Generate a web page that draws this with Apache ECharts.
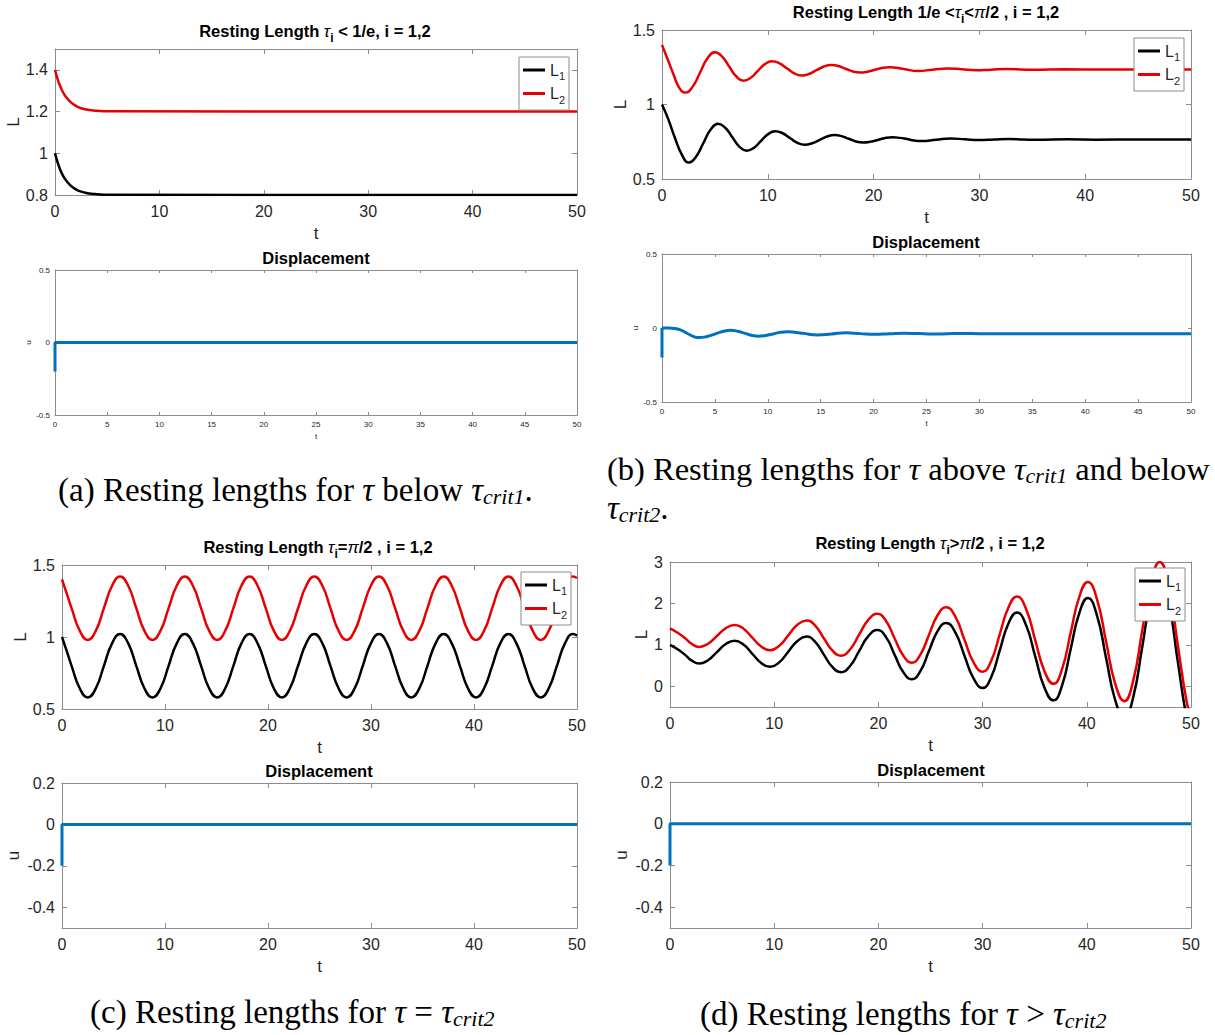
<!DOCTYPE html>
<html>
<head>
<meta charset="utf-8">
<script src="https://cdn.jsdelivr.net/npm/echarts@6/dist/echarts.min.js"></script>
<style>
  html, body { margin: 0; padding: 0; background: #fff; }
  #chart { width: 1215px; height: 1035px; }
</style>
</head>
<body>
<div id="chart"></div>
<script>
// ---------------- tick values ----------------
const tMajor = [0, 10, 20, 30, 40, 50];
const tMinor = [0, 5, 10, 15, 20, 25, 30, 35, 40, 45, 50];
const ticksLa = [0.8, 1, 1.2, 1.4];
const ticksL = [0.5, 1, 1.5];
const ticksLd = [0, 1, 2, 3];
const ticksU = [-0.5, 0, 0.5];
const ticksU2 = [-0.4, -0.2, 0, 0.2];

// ---------------- (a) tau below 1/e ----------------
const tA = [0, 0.25, 0.5, 0.75, 1, 1.5, 2, 2.5, 3, 3.5, 4, 5, 50];
const aL1 = [1.0, 0.956, 0.921, 0.894, 0.874, 0.845, 0.827, 0.816, 0.81, 0.806, 0.804, 0.801, 0.8];
const aL2 = [1.4, 1.356, 1.321, 1.294, 1.274, 1.245, 1.227, 1.216, 1.21, 1.206, 1.204, 1.201, 1.2];
const tAu = [0, 0, 50];
const aU = [-0.2, 0, 0];

// ---------------- (b) 1/e < tau < pi/2 ----------------
const tB1 = [0, 0.6, 1.25, 1.9, 2.5, 3.2, 3.9, 4.6, 5.3, 5.98, 6.65, 7.33, 8.0, 8.68, 9.35, 10.03, 10.7,
  11.4, 12.1, 12.8, 13.5, 14.2, 14.9, 15.6, 16.3, 16.98, 17.65, 18.33, 19.0, 19.7, 20.4, 21.1, 21.8,
  22.48, 23.15, 23.83, 24.5, 25.9, 27.3, 28.65, 30.0, 31.4, 32.8, 34.15, 35.5, 38.3, 41, 45, 50];
const bL1 = [1.0, 0.9, 0.77, 0.66, 0.61, 0.648, 0.74, 0.832, 0.87, 0.844, 0.78, 0.716, 0.69, 0.709, 0.755, 0.801, 0.82,
  0.807, 0.775, 0.743, 0.73, 0.74, 0.762, 0.785, 0.795, 0.788, 0.77, 0.752, 0.745, 0.75, 0.762, 0.775, 0.78,
  0.776, 0.768, 0.759, 0.755, 0.763, 0.772, 0.766, 0.761, 0.765, 0.768, 0.765, 0.763, 0.766, 0.764, 0.765, 0.765];
const tB2 = [0, 0.55, 1.1, 1.65, 2.2, 2.9, 3.6, 4.3, 5.0, 5.68, 6.35, 7.03, 7.7, 8.38, 9.05, 9.73, 10.4,
  11.1, 11.8, 12.5, 13.2, 13.9, 14.6, 15.3, 16.0, 16.68, 17.35, 18.03, 18.7, 19.4, 20.1, 20.8, 21.5,
  22.85, 24.2, 25.6, 27.0, 28.35, 29.7, 31.1, 32.5, 35.2, 38, 42, 50];
const bL2 = [1.4, 1.3, 1.2, 1.11, 1.08, 1.12, 1.215, 1.31, 1.35, 1.322, 1.255, 1.188, 1.16, 1.179, 1.225, 1.271, 1.29,
  1.276, 1.243, 1.209, 1.195, 1.205, 1.23, 1.255, 1.265, 1.258, 1.24, 1.222, 1.215, 1.22, 1.233, 1.245, 1.25,
  1.238, 1.225, 1.234, 1.242, 1.236, 1.23, 1.234, 1.238, 1.233, 1.236, 1.235, 1.235];
const tBu0 = [0, 0];
const bU0 = [-0.2, 0];
const tBu = [0, 0.6, 1.2, 1.8, 2.4, 3.0, 3.5, 4.25, 5.0, 5.75, 6.5, 7.15, 7.8, 8.45, 9.1, 9.8, 10.5, 11.2, 11.9,
  13.3, 14.7, 16.05, 17.4, 18.75, 20.1, 21.5, 22.9, 24.25, 25.6, 27, 28.4, 30, 50];
const bU = [0, 0, -0.003, -0.015, -0.037, -0.058, -0.065, -0.058, -0.041, -0.024, -0.016, -0.022, -0.035, -0.049, -0.055,
  -0.05, -0.04, -0.029, -0.025, -0.036, -0.047, -0.04, -0.032, -0.038, -0.043, -0.039, -0.035, -0.038, -0.041,
  -0.039, -0.037, -0.039, -0.039];

// ---------------- (c) tau = pi/2 ----------------
const tC = [0, 0.47, 0.93, 1.72, 2.5,
  3.29, 4.07, 4.86, 5.64, 6.43, 7.21, 8.0, 8.78,
  9.57, 10.35, 11.14, 11.92, 12.71, 13.5, 14.28, 15.07,
  15.85, 16.64, 17.42, 18.21, 18.99, 19.78, 20.56, 21.35,
  22.13, 22.92, 23.71, 24.49, 25.28, 26.06, 26.85, 27.63,
  28.42, 29.2, 29.99, 30.77, 31.56, 32.34, 33.13, 33.91,
  34.7, 35.48, 36.27, 37.06, 37.84, 38.63, 39.41, 40.2,
  40.98, 41.77, 42.55, 43.34, 44.12, 44.91, 45.69, 46.48,
  47.26, 48.05, 48.83, 49.62, 50];
const cL1 = [1.0, 0.9, 0.8, 0.644, 0.58,
  0.644, 0.8, 0.956, 1.02, 0.956, 0.8, 0.644, 0.58,
  0.644, 0.8, 0.956, 1.02, 0.956, 0.8, 0.644, 0.58,
  0.644, 0.8, 0.956, 1.02, 0.956, 0.8, 0.644, 0.58,
  0.644, 0.8, 0.956, 1.02, 0.956, 0.8, 0.644, 0.58,
  0.644, 0.8, 0.956, 1.02, 0.956, 0.8, 0.644, 0.58,
  0.644, 0.8, 0.956, 1.02, 0.956, 0.8, 0.644, 0.58,
  0.644, 0.8, 0.956, 1.02, 0.956, 0.8, 0.644, 0.58,
  0.644, 0.8, 0.956, 1.02, 1.01];
const cL2 = [1.4, 1.3, 1.2, 1.044, 0.98,
  1.044, 1.2, 1.356, 1.42, 1.356, 1.2, 1.044, 0.98,
  1.044, 1.2, 1.356, 1.42, 1.356, 1.2, 1.044, 0.98,
  1.044, 1.2, 1.356, 1.42, 1.356, 1.2, 1.044, 0.98,
  1.044, 1.2, 1.356, 1.42, 1.356, 1.2, 1.044, 0.98,
  1.044, 1.2, 1.356, 1.42, 1.356, 1.2, 1.044, 0.98,
  1.044, 1.2, 1.356, 1.42, 1.356, 1.2, 1.044, 0.98,
  1.044, 1.2, 1.356, 1.42, 1.356, 1.2, 1.044, 0.98,
  1.044, 1.2, 1.356, 1.42, 1.41];
const tCu = [0, 0, 50];
const cU = [-0.2, 0, 0];

// ---------------- (d) tau > pi/2 ----------------
const tD = [0, 0.7, 1.4, 2.1, 2.8,
  3.65, 4.5, 5.35, 6.2, 7.05, 7.9, 8.75, 9.6,
  10.48, 11.35, 12.23, 13.1, 13.93, 14.75, 15.58, 16.4,
  17.28, 18.15, 19.03, 19.9, 20.73, 21.55, 22.38, 23.2,
  24.03, 24.85, 25.68, 26.5, 27.38, 28.25, 29.13, 30.0,
  30.83, 31.65, 32.48, 33.3, 34.18, 35.05, 35.93, 36.8,
  37.63, 38.45, 39.28, 40.1, 40.98, 41.85, 42.73, 43.6,
  44.45, 45.3, 46.15, 47.0, 47.85, 48.7, 49.55, 50];
const dL1 = [1.0, 0.9, 0.77, 0.62, 0.55,
  0.63, 0.825, 1.02, 1.1, 1.008, 0.785, 0.562, 0.47,
  0.577, 0.835, 1.093, 1.2, 1.074, 0.77, 0.466, 0.34,
  0.489, 0.85, 1.211, 1.36, 1.186, 0.765, 0.344, 0.17,
  0.369, 0.85, 1.331, 1.53, 1.3, 0.745, 0.19, -0.04,
  0.226, 0.87, 1.514, 1.78, 1.47, 0.72, -0.03, -0.34,
  0.022, 0.895, 1.768, 2.13, 1.707, 0.685, -0.337, -0.76,
  -0.268, 0.92, 2.108, 2.6, 2.029, 0.65, -0.729, -1.16];
const dL2 = [1.4, 1.3, 1.17, 1.02, 0.95,
  1.028, 1.215, 1.402, 1.48, 1.391, 1.175, 0.959, 0.87,
  0.975, 1.23, 1.485, 1.59, 1.466, 1.165, 0.864, 0.74,
  0.888, 1.245, 1.602, 1.75, 1.577, 1.16, 0.743, 0.57,
  0.766, 1.24, 1.714, 1.91, 1.682, 1.13, 0.578, 0.35,
  0.616, 1.26, 1.904, 2.17, 1.861, 1.115, 0.369, 0.06,
  0.42, 1.29, 2.16, 2.52, 2.098, 1.08, 0.058, -0.36,
  0.132, 1.32, 2.508, 3.0, 2.429, 1.05, -0.329, -0.76];
const tDu = [0, 0, 50];
const dU = [-0.2, 0, 0];

// ---------------- styling ----------------
const SANS = "'Liberation Sans', Arial, Helvetica, sans-serif";
const SERIF = "'Liberation Serif', 'Times New Roman', serif";
const AX = '#8c8c8c';
const TX = '#262626';
const BLACK = '#000000';
const RED = '#e60000';
const BLUE = '#0072bd';

const zip = (t, v) => t.map((x, i) => [x, v[i]]);

const option = {
  animation: false,
  backgroundColor: '#ffffff',
  grid: [], xAxis: [], yAxis: [], series: [], legend: [],
  graphic: { elements: [] }
};

function addPanel(p) {
  const gi = option.grid.length;
  option.grid.push(Object.assign({ containLabel: false }, p.grid));
  const fs = p.small ? 8 : 16;
  const tl = p.small ? 3 : 5;
  const frame = (ticks) => ({
    axisLine: { show: true, onZero: false, lineStyle: { color: AX, width: 1 } },
    splitLine: { show: false },
    axisTick: { show: true, inside: true, length: tl, customValues: ticks, lineStyle: { color: AX, width: 1 } }
  });
  const xi = option.xAxis.length;
  const yi = option.yAxis.length;
  option.xAxis.push(Object.assign({
    type: 'value', gridIndex: gi, position: 'bottom', min: 0, max: 50,
    axisLabel: { customValues: p.xTicks, fontSize: fs, color: TX, fontFamily: SANS, margin: p.small ? 5 : 8 },
    name: 't', nameLocation: 'middle', nameGap: p.small ? 17 : 30,
    nameTextStyle: { fontSize: p.small ? 8 : 17, color: TX, fontFamily: SANS }
  }, frame(p.xTicks)));
  option.xAxis.push(Object.assign({
    type: 'value', gridIndex: gi, position: 'top', min: 0, max: 50, axisLabel: { show: false }
  }, frame(p.xTicks)));
  option.yAxis.push(Object.assign({
    type: 'value', gridIndex: gi, position: 'left', min: p.yMin, max: p.yMax,
    axisLabel: { customValues: p.yTicks, fontSize: fs, color: TX, fontFamily: SANS, margin: p.small ? 5 : 7 },
    name: p.yName, nameLocation: 'middle', nameGap: p.yGap,
    nameTextStyle: { fontSize: p.small ? 8 : 17, color: TX, fontFamily: SANS }
  }, frame(p.yTicks)));
  option.yAxis.push(Object.assign({
    type: 'value', gridIndex: gi, position: 'right', min: p.yMin, max: p.yMax, axisLabel: { show: false }
  }, frame(p.yTicks)));
  p.series.forEach(s => option.series.push({
    type: 'line', name: s.name, xAxisIndex: xi, yAxisIndex: yi, data: s.data,
    symbol: 'none', smooth: s.smooth || false, clip: true, silent: true,
    lineStyle: { color: s.color, width: s.width }, itemStyle: { color: s.color }
  }));
  if (p.legend) {
    option.legend.push({
      left: p.legend.left, top: p.legend.top, orient: 'vertical', data: ['L1', 'L2'],
      selectedMode: false, icon: 'rect', itemWidth: 22, itemHeight: 3, itemGap: 4,
      padding: [5, 4, 5, 4], backgroundColor: '#ffffff', borderColor: AX, borderWidth: 1, borderRadius: 0,
      formatter: n => 'L{s|' + n.slice(1) + '}',
      textStyle: {
        fontFamily: SANS, fontSize: 16, color: TX,
        rich: { s: { fontFamily: SANS, fontSize: 11, color: TX, verticalAlign: 'bottom', padding: [12, 0, 0, 0] } }
      }
    });
  }
}

const lw = 2.5, uw = 3;

// (a)
addPanel({ grid: { left: 55, top: 49, width: 522, height: 146 }, yMin: 0.8, yMax: 1.5,
  xTicks: tMajor, yTicks: ticksLa, yName: 'L', yGap: 33, legend: { left: 519, top: 57 },
  series: [{ name: 'L1', data: zip(tA, aL1), color: BLACK, width: lw, smooth: 0.4 },
           { name: 'L2', data: zip(tA, aL2), color: RED, width: lw, smooth: 0.4 }] });
addPanel({ grid: { left: 55, top: 270, width: 522, height: 145 }, yMin: -0.5, yMax: 0.5, small: true,
  xTicks: tMinor, yTicks: ticksU, yName: 'u', yGap: 21,
  series: [{ name: 'u', data: zip(tAu, aU), color: BLUE, width: uw }] });

// (b)
addPanel({ grid: { left: 662, top: 30, width: 529, height: 149 }, yMin: 0.5, yMax: 1.5,
  xTicks: tMajor, yTicks: ticksL, yName: 'L', yGap: 33, legend: { left: 1134, top: 38 },
  series: [{ name: 'L1', data: zip(tB1, bL1), color: BLACK, width: lw, smooth: 0.5 },
           { name: 'L2', data: zip(tB2, bL2), color: RED, width: lw, smooth: 0.5 }] });
addPanel({ grid: { left: 662, top: 254, width: 529, height: 148 }, yMin: -0.5, yMax: 0.5, small: true,
  xTicks: tMinor, yTicks: ticksU, yName: 'u', yGap: 21,
  series: [{ name: 'u', data: zip(tBu0, bU0), color: BLUE, width: uw },
           { name: 'u', data: zip(tBu, bU), color: BLUE, width: uw, smooth: 0.5 }] });

// (c)
addPanel({ grid: { left: 62, top: 565, width: 515, height: 144 }, yMin: 0.5, yMax: 1.5,
  xTicks: tMajor, yTicks: ticksL, yName: 'L', yGap: 33, legend: { left: 521, top: 572 },
  series: [{ name: 'L1', data: zip(tC, cL1), color: BLACK, width: lw, smooth: 0.5 },
           { name: 'L2', data: zip(tC, cL2), color: RED, width: lw, smooth: 0.5 }] });
addPanel({ grid: { left: 62, top: 783, width: 515, height: 145 }, yMin: -0.5, yMax: 0.2,
  xTicks: tMajor, yTicks: ticksU2, yName: 'u', yGap: 40,
  series: [{ name: 'u', data: zip(tCu, cU), color: BLUE, width: uw }] });

// (d)
addPanel({ grid: { left: 670, top: 562, width: 521, height: 145 }, yMin: -0.5, yMax: 3,
  xTicks: tMajor, yTicks: ticksLd, yName: 'L', yGap: 20, legend: { left: 1135, top: 568 },
  series: [{ name: 'L1', data: zip(tD, dL1), color: BLACK, width: lw, smooth: 0.5 },
           { name: 'L2', data: zip(tD, dL2), color: RED, width: lw, smooth: 0.5 }] });
addPanel({ grid: { left: 670, top: 782, width: 521, height: 146 }, yMin: -0.5, yMax: 0.2,
  xTicks: tMajor, yTicks: ticksU2, yName: 'u', yGap: 40,
  series: [{ name: 'u', data: zip(tDu, dU), color: BLUE, width: uw }] });

// ---------------- plot titles ----------------
const titleRich = {
  g: { fontFamily: SANS, fontSize: 17, fontStyle: 'italic', fontWeight: 'normal', fill: '#000' },
  s: { fontFamily: SANS, fontSize: 12, fontWeight: 'bold', fill: '#000', verticalAlign: 'bottom', padding: [13, 0, 0, 0] }
};
function plotTitle(x, y, text) {
  option.graphic.elements.push({
    type: 'text', x: x, y: y, silent: true,
    style: { text: text, rich: titleRich, fontFamily: SANS, fontSize: 16.5, fontWeight: 'bold',
             fill: '#000', align: 'center', verticalAlign: 'middle' }
  });
}
plotTitle(315, 31, 'Resting Length {g|τ}{s|i} < 1/e, i = 1,2');
plotTitle(316, 258, 'Displacement');
plotTitle(926, 12, 'Resting Length 1/e <{g|τ}{s|i}<{g|π}/2 , i = 1,2');
plotTitle(926, 242, 'Displacement');
plotTitle(318, 547, 'Resting Length {g|τ}{s|i}={g|π}/2 , i = 1,2');
plotTitle(319, 771, 'Displacement');
plotTitle(930, 543, 'Resting Length {g|τ}{s|i}>{g|π}/2 , i = 1,2');
plotTitle(931, 770, 'Displacement');

// ---------------- sub-figure captions ----------------
function capRich(size) {
  return {
    m: { fontFamily: SERIF, fontSize: size, fontStyle: 'italic', fill: '#000' },
    s: { fontFamily: SERIF, fontSize: Math.round(size * 0.68), fontStyle: 'italic', fill: '#000',
         verticalAlign: 'bottom', padding: [Math.round(size * 0.4), 0, 0, 0] }
  };
}
function caption(x, y, text, size) {
  option.graphic.elements.push({
    type: 'text', x: x, y: y, silent: true,
    style: { text: text, rich: capRich(size), fontFamily: SERIF, fontSize: size, fill: '#000',
             align: 'left', verticalAlign: 'middle' }
  });
}
caption(58, 490, '(a) Resting lengths for {m|τ} below {m|τ}{s|crit1}.', 33);
caption(607, 469, '(b) Resting lengths for {m|τ} above {m|τ}{s|crit1} and below', 32.5);
caption(607, 508, '{m|τ}{s|crit2}.', 33);
caption(90, 1012, '(c) Resting lengths for {m|τ} = {m|τ}{s|crit2}', 33);
caption(700, 1014, '(d) Resting lengths for {m|τ} > {m|τ}{s|crit2}', 33);

const chart = echarts.init(document.getElementById('chart'), null, { renderer: 'svg' });
chart.setOption(option);
</script>
</body>
</html>
